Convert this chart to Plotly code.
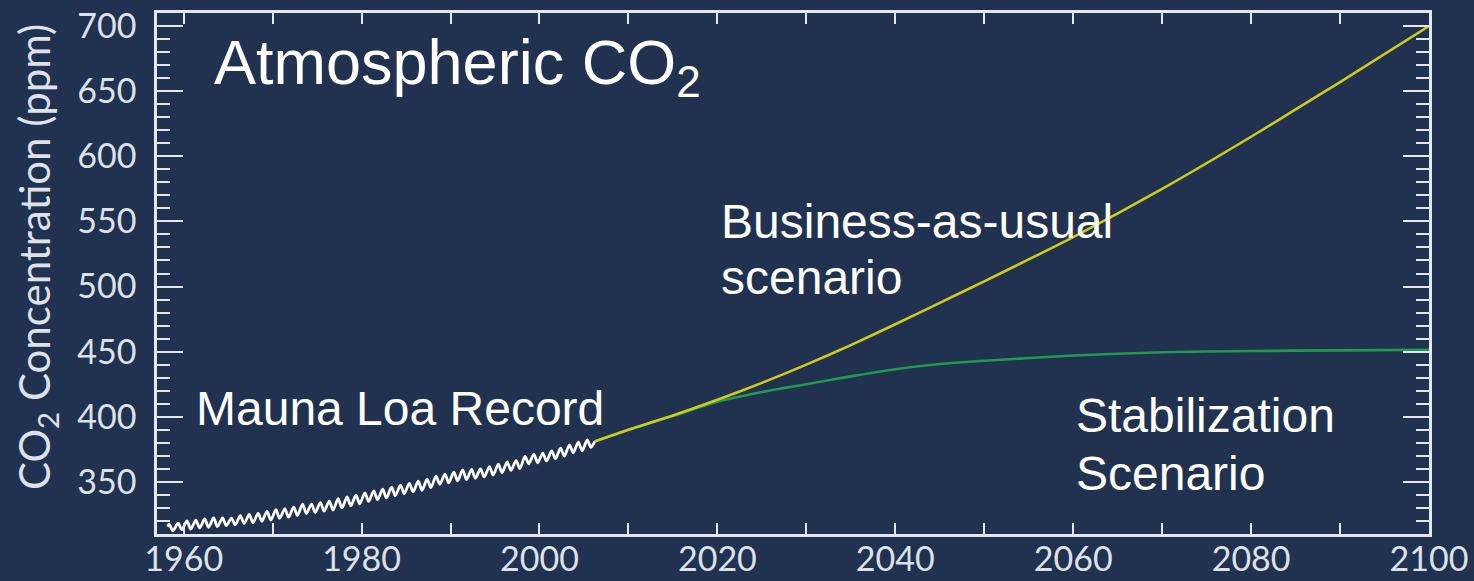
import plotly.graph_objects as go

# ---------------- data ----------------
# Mauna Loa record: seasonal maximum (May) and minimum (October) per year
ml_years = list(range(1958, 2006))
ml_may = [317.5, 318.3, 320.0, 320.6, 321.6, 322.3, 322.4, 322.2, 324.0, 325.0,
          325.9, 327.4, 328.6, 329.4, 330.6, 333.0, 333.0, 334.1, 335.3, 337.1,
          338.5, 339.8, 341.5, 343.0, 344.4, 345.9, 347.6, 348.9, 350.5, 352.1,
          354.5, 355.9, 357.4, 359.3, 359.6, 359.9, 361.7, 363.7, 365.3, 366.4,
          369.5, 371.4, 372.1, 373.8, 375.9, 378.5, 380.6, 382.2]
ml_oct = [312.4, 313.3, 313.8, 314.6, 315.2, 315.7, 316.4, 317.0, 318.0, 318.7,
          319.7, 320.7, 322.0, 322.9, 324.1, 325.7, 326.5, 327.5, 328.4, 330.0,
          331.6, 333.2, 335.0, 336.4, 337.7, 339.4, 340.9, 342.3, 343.6, 345.6,
          348.2, 349.3, 350.8, 351.7, 352.8, 353.8, 355.2, 357.1, 358.9, 360.2,
          363.9, 364.6, 366.1, 367.7, 369.8, 372.4, 373.8, 376.5]
ml_first = (1958.2, 315.7)
ml_last = (2006.2, 381.0)

# Scenarios
proj_years = [2006.2, 2010, 2015, 2020, 2025, 2030, 2035, 2040, 2045, 2050,
              2060, 2070, 2080, 2090, 2100]
bau = [381.0, 390.0, 401.0, 413.0, 426.0, 440.0, 455.0, 471.0, 487.5, 504.0,
       538.0, 575.0, 615.0, 657.0, 700.0]
stab = [381.0, 390.0, 400.5, 411.5, 419.0, 425.0, 431.0, 436.5, 440.5, 443.0,
        447.0, 449.5, 450.5, 451.0, 451.5]

x_tick_vals = [1960, 1980, 2000, 2020, 2040, 2060, 2080, 2100]
y_tick_vals = [350, 400, 450, 500, 550, 600, 650, 700]

# ---------------- build ----------------
ml_x = [ml_first[0]]
ml_y = [ml_first[1]]
for yr, hi, lo in zip(ml_years, ml_may, ml_oct):
    ml_x += [yr + 0.37, yr + 0.79]
    ml_y += [hi, lo]
ml_x.append(ml_last[0])
ml_y.append(ml_last[1])

BG = "#213150"
AX = "#e4e8ee"
TXT = "#dde2e9"

fig = go.Figure()
fig.add_trace(go.Scatter(x=proj_years, y=stab, mode="lines",
                         line=dict(color="#22994f", width=2.6, shape="spline", smoothing=0.6),
                         hoverinfo="skip"))
fig.add_trace(go.Scatter(x=proj_years, y=bau, mode="lines",
                         line=dict(color="#cfcb1c", width=2.6, shape="spline", smoothing=0.6),
                         hoverinfo="skip"))
fig.add_trace(go.Scatter(x=ml_x, y=ml_y, mode="lines",
                         line=dict(color="#ffffff", width=2.8, shape="spline", smoothing=0.8),
                         hoverinfo="skip"))

W, H = 1474, 581
L, R, T, B = 157, 45, 13, 47
pw, ph = W - L - R, H - T - B


def px(xp):
    return (xp - L) / pw


def py(yp):
    return (H - B - yp) / ph


tick_font = dict(family="Lato, 'Open Sans', sans-serif", size=34, color=TXT)
ann_font = dict(family="'Liberation Sans', Arial, sans-serif", size=48, color="#ffffff")

annotations = [
    dict(text="Atmospheric CO<sub>2</sub>", x=px(212), y=py(25), xanchor="left", yanchor="top",
         font=dict(family="'Liberation Sans', Arial, sans-serif", size=63, color="#ffffff")),
    dict(text="Mauna Loa Record", x=px(194), y=py(408), xanchor="left", yanchor="middle", font=ann_font),
    dict(text="Business-as-usual", x=px(719), y=py(221), xanchor="left", yanchor="middle", font=ann_font),
    dict(text="scenario", x=px(719), y=py(277), xanchor="left", yanchor="middle", font=ann_font),
    dict(text="Stabilization", x=px(1074), y=py(416), xanchor="left", yanchor="middle", font=ann_font),
    dict(text="Scenario", x=px(1074), y=py(473), xanchor="left", yanchor="middle", font=ann_font),
    dict(text="CO<sub>2</sub> Concentration (ppm)", x=px(37), y=py(257), xanchor="center",
         yanchor="middle", textangle=-90,
         font=dict(family="Lato, 'Open Sans', sans-serif", size=42, color=TXT)),
]
for a in annotations:
    a.update(xref="paper", yref="paper", showarrow=False)

fig.update_layout(
    width=W, height=H,
    margin=dict(l=L, r=R, t=T, b=B, pad=0, autoexpand=False),
    paper_bgcolor=BG, plot_bgcolor=BG,
    showlegend=False,
    annotations=annotations,
    xaxis=dict(range=[1957, 2100], tickmode="array", tickvals=x_tick_vals, automargin=False,
               showline=True, linecolor=AX, linewidth=2.5, mirror="ticks",
               ticks="inside", ticklen=11, tickwidth=2, tickcolor=AX,
               minor=dict(dtick=10, tick0=1960, ticks="inside", ticklen=11, tickwidth=2,
                          tickcolor=AX, showgrid=False),
               showgrid=False, zeroline=False, tickfont=tick_font, ticklabelstandoff=-7),
    yaxis=dict(range=[310, 710], tickmode="array", tickvals=y_tick_vals, automargin=False,
               showline=True, linecolor=AX, linewidth=2.5, mirror="ticks",
               ticks="inside", ticklen=26, tickwidth=2, tickcolor=AX,
               minor=dict(dtick=10, tick0=310, ticks="inside", ticklen=13, tickwidth=2,
                          tickcolor=AX, showgrid=False),
               showgrid=False, zeroline=False, tickfont=tick_font, ticklabelstandoff=11),
)

fig.write_html("out.html", config={"displayModeBar": False},
               post_script="document.body.style.margin='0';")
